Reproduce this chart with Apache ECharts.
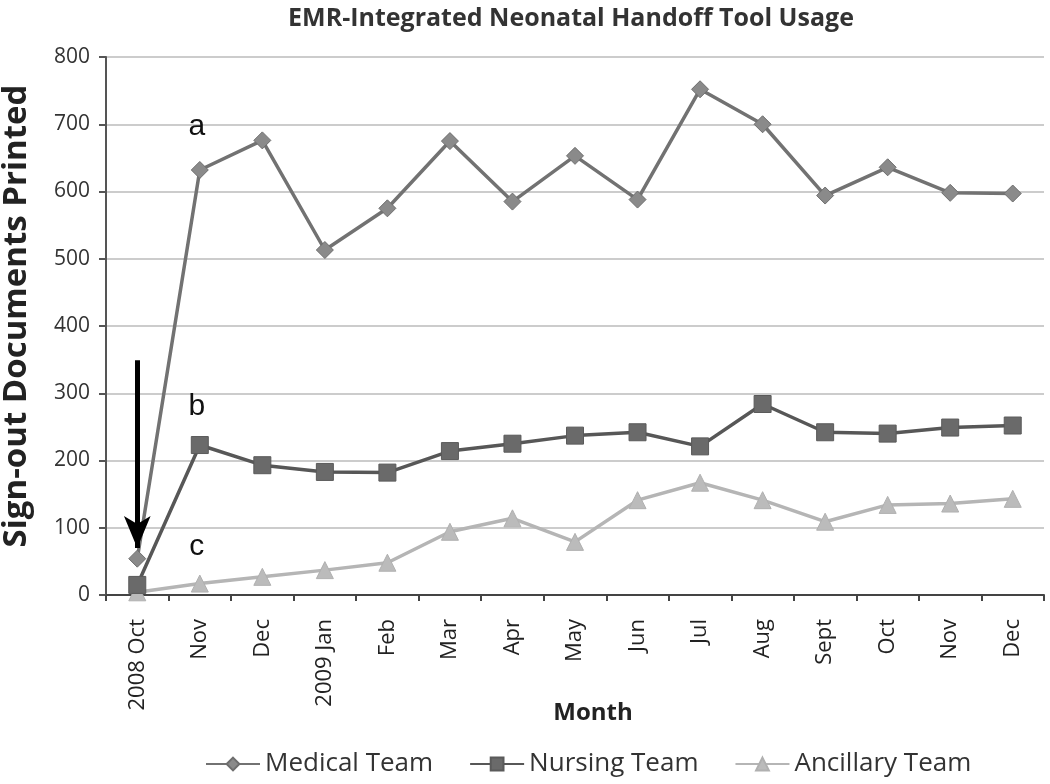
<!DOCTYPE html>
<html>
<head>
<meta charset="utf-8">
<script src="https://cdn.jsdelivr.net/npm/echarts@6/dist/echarts.min.js"></script>
<style>html,body{margin:0;padding:0;background:#fff}#c{width:1050px;height:784px}</style>
</head>
<body>
<div id="c"></div>
<script>
const months = ['2008 Oct','Nov','Dec','2009 Jan','Feb','Mar','Apr','May','Jun','Jul','Aug','Sept','Oct','Nov','Dec'];
const medical = [54, 632, 676, 513, 575, 675, 585, 653, 588, 752, 700, 594, 636, 598, 597];
const nursing = [15, 223, 193, 183, 182, 214, 225, 237, 242, 221, 284, 242, 240, 249, 252];
const ancillary = [4, 17, 27, 37, 48, 94, 114, 79, 141, 167, 141, 109, 134, 136, 143];
const yTicks = [0, 100, 200, 300, 400, 500, 600, 700, 800];

const chart = echarts.init(document.getElementById('c'));
const FONT = 'Open Sans';
chart.setOption({
  animation: false,
  backgroundColor: '#fff',
  title: {
    text: 'EMR-Integrated Neonatal Handoff Tool Usage',
    left: 566, top: 1, textAlign: 'center',
    textStyle: {fontFamily: FONT, fontWeight: 'bold', fontSize: 25, color: '#333'}
  },
  legend: {
    bottom: 2, left: 200,
    itemWidth: 54, itemHeight: 16, itemGap: 36,
    textStyle: {fontFamily: FONT, fontSize: 26, color: '#333'},
    data: ['Medical Team', 'Nursing Team', 'Ancillary Team']
  },
  grid: {left: 106, right: 6, top: 57, bottom: 189, containLabel: false, outerBoundsMode: 'none'},
  xAxis: {
    type: 'category', data: months, boundaryGap: true,
    name: 'Month', nameLocation: 'middle', nameGap: 106, nameMoveOverlap: false,
    nameTextStyle: {fontFamily: FONT, fontWeight: 'bold', fontSize: 24, color: '#222', padding: [0, 0, 0, 36]},
    axisLine: {lineStyle: {color: '#444', width: 2}},
    axisTick: {show: true, alignWithLabel: false, length: 6, lineStyle: {color: '#444', width: 2}},
    axisLabel: {rotate: 90, margin: 24, fontFamily: FONT, fontSize: 22, color: '#222', interval: 0}
  },
  yAxis: {
    type: 'value', min: yTicks[0], max: yTicks[yTicks.length - 1], interval: 100,
    name: 'Sign-out Documents Printed', nameLocation: 'middle', nameGap: 72, nameMoveOverlap: false,
    nameTextStyle: {fontFamily: FONT, fontWeight: 'bold', fontSize: 33, lineHeight: 34, color: '#222', padding: [0, 0, 0, 20]},
    axisLine: {show: true, lineStyle: {color: '#555', width: 2}},
    axisTick: {show: true, length: 7, lineStyle: {color: '#555', width: 2}},
    axisLabel: {margin: 16, fontFamily: FONT, fontSize: 21, color: '#333'},
    splitLine: {lineStyle: {color: '#cccccc', width: 2}}
  },
  series: [
    {
      name: 'Medical Team', type: 'line', data: medical,
      symbol: 'diamond', symbolSize: 17,
      lineStyle: {color: '#727272', width: 3.5},
      itemStyle: {color: '#8a8a8a', borderColor: '#6e6e6e', borderWidth: 1},
      z: 3,
      markLine: {
        silent: true, symbol: ['none', 'arrow'], symbolSize: [20, 32],
        label: {show: false},
        lineStyle: {color: '#000', width: 5, type: 'solid'},
        data: [[{coord: [0, 349]}, {coord: [0, 70]}]]
      },
      markPoint: {
        symbol: 'circle', symbolSize: 0,
        label: {show: true, fontFamily: 'Liberation Sans', fontSize: 30, color: '#111', formatter: p => p.name, offset: [-3, 0]},
        data: [
          {name: 'a', coord: [1, 696]},
          {name: 'b', coord: [1, 280]},
          {name: 'c', coord: [1, 72]}
        ]
      }
    },
    {
      name: 'Nursing Team', type: 'line', data: nursing,
      symbol: 'rect', symbolSize: 17,
      lineStyle: {color: '#575757', width: 3.5},
      itemStyle: {color: '#6a6a6a', borderColor: '#5a5a5a', borderWidth: 1},
      z: 2
    },
    {
      name: 'Ancillary Team', type: 'line', data: ancillary,
      symbol: 'triangle', symbolSize: 17,
      lineStyle: {color: '#b5b5b5', width: 3.5},
      itemStyle: {color: '#bbbbbb', borderColor: '#b0b0b0', borderWidth: 1},
      z: 1
    }
  ]
});
</script>
</body>
</html>
